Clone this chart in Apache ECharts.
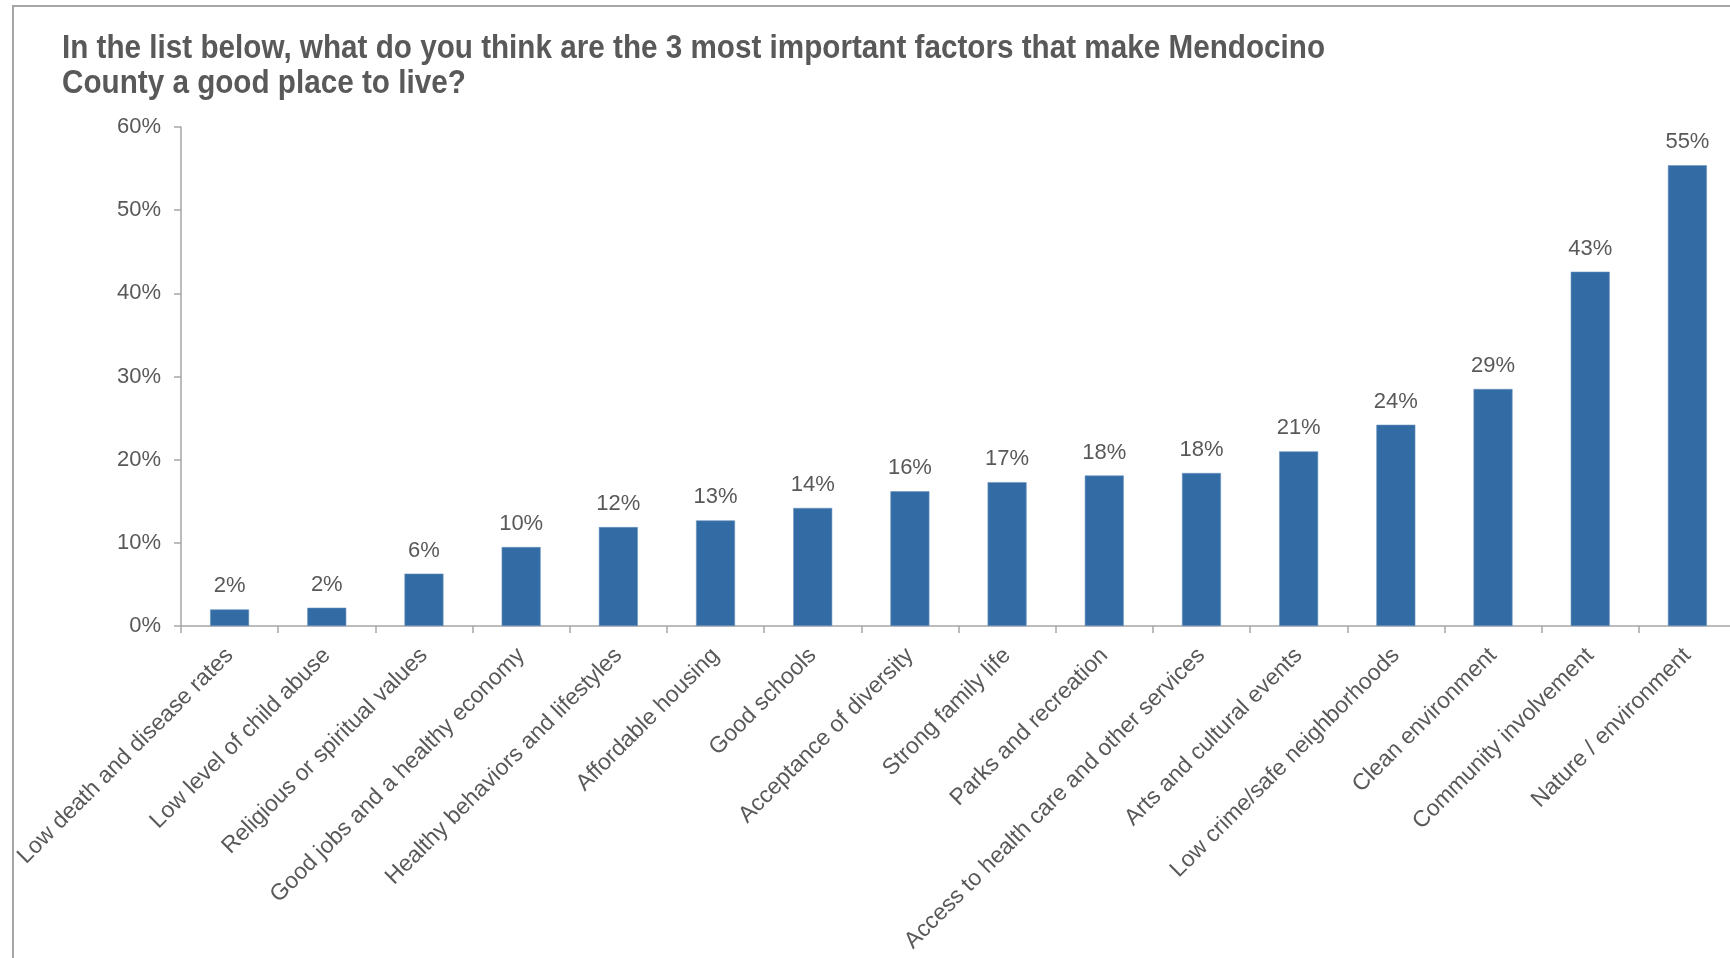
<!DOCTYPE html>
<html>
<head>
<meta charset="utf-8">
<script src="https://cdn.jsdelivr.net/npm/echarts@6/dist/echarts.min.js"></script>
<style>
  html, body { margin: 0; padding: 0; background: #ffffff; overflow: hidden; }
  #chart { width: 1740px; height: 958px; }
</style>
</head>
<body>
<div id="chart"></div>
<script>
const titleLines = [
  "In the list below, what do you think are the 3 most important factors that make Mendocino",
  "County a good place to live?"
];

const categories = [
  "Low death and disease rates",
  "Low level of child abuse",
  "Religious or spiritual values",
  "Good jobs and a healthy economy",
  "Healthy behaviors and lifestyles",
  "Affordable housing",
  "Good schools",
  "Acceptance of diversity",
  "Strong family life",
  "Parks and recreation",
  "Access to health care and other services",
  "Arts and cultural events",
  "Low crime/safe neighborhoods",
  "Clean environment",
  "Community involvement",
  "Nature / environment"
];

const values = [2.0, 2.2, 6.3, 9.5, 11.9, 12.7, 14.2, 16.2, 17.3, 18.1, 18.4, 21.0, 24.2, 28.5, 42.6, 55.4];

const yTicks = [0, 10, 20, 30, 40, 50, 60];

const textColor = "#595959";
const axisColor = "#a6a6a6";
const barColor = "#336ca4";

// condensed bold title: measure and compress horizontally
const titleFont = "bold 34px 'Liberation Sans', Arial, sans-serif";
const mctx = document.createElement("canvas").getContext("2d");
mctx.font = titleFont;
const titleScale = 1263 / mctx.measureText(titleLines[0]).width;

const chart = echarts.init(document.getElementById("chart"), null, { renderer: "canvas" });

chart.setOption({
  animation: false,
  backgroundColor: "#ffffff",
  graphic: [
    {
      type: "rect",
      shape: { x: 13, y: 6, width: 1900, height: 1100 },
      style: { fill: "none", stroke: "#a6a6a6", lineWidth: 2 },
      silent: true
    },
    {
      type: "text", x: 62, y: 49, scaleX: titleScale, silent: true,
      style: { text: titleLines[0], font: titleFont, fill: textColor, align: "left", verticalAlign: "middle" }
    },
    {
      type: "text", x: 62, y: 84, scaleX: titleScale, silent: true,
      style: { text: titleLines[1], font: titleFont, fill: textColor, align: "left", verticalAlign: "middle" }
    }
  ],
  grid: { left: 181, top: 127, width: 1555, bottom: 332, containLabel: false },
  xAxis: {
    type: "category",
    data: categories,
    axisLine: { lineStyle: { color: axisColor, width: 1.5 } },
    axisTick: { show: true, alignWithLabel: false, length: 7, lineStyle: { color: axisColor, width: 1.5 } },
    axisLabel: {
      interval: 0,
      rotate: 45,
      margin: 26,
      color: textColor,
      fontFamily: "Liberation Sans, Arial, sans-serif",
      fontSize: 23
    }
  },
  yAxis: {
    type: "value",
    min: yTicks[0],
    max: yTicks[yTicks.length - 1],
    interval: 10,
    splitLine: { show: false },
    axisLine: { show: true, lineStyle: { color: axisColor, width: 1.5 } },
    axisTick: { show: true, length: 7, lineStyle: { color: axisColor, width: 1.5 } },
    axisLabel: {
      margin: 20,
      color: textColor,
      fontFamily: "Liberation Sans, Arial, sans-serif",
      fontSize: 22,
      formatter: v => v + "%"
    }
  },
  series: [{
    type: "bar",
    data: values,
    barWidth: 39,
    itemStyle: { color: barColor, borderColor: "#6b93bf", borderWidth: 0.6 },
    label: {
      show: true,
      position: "top",
      distance: 12,
      color: textColor,
      fontFamily: "Liberation Sans, Arial, sans-serif",
      fontSize: 22,
      formatter: p => Math.round(p.value) + "%"
    }
  }]
});
</script>
</body>
</html>
